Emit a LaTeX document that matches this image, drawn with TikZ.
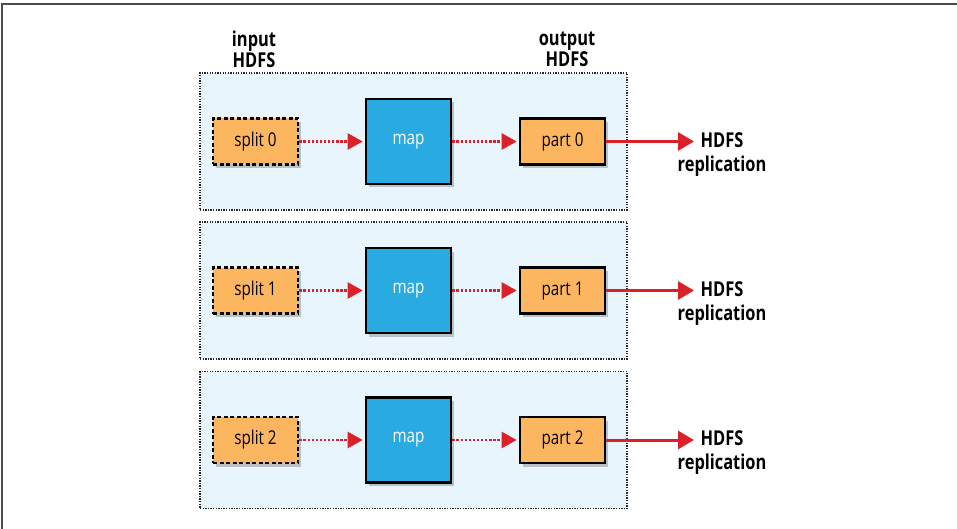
\documentclass[tikz,border=0pt]{standalone}
\usepackage{fontspec}
\setmainfont[FakeStretch=0.8]{Open Sans}
\usetikzlibrary{arrows.meta,shadows}
\definecolor{panelfill}{HTML}{E9F5FC}
\definecolor{boxorange}{HTML}{FDB660}
\definecolor{mapblue}{HTML}{29AAE1}
\definecolor{arrred}{HTML}{DA2129}
\tikzset{
  panel/.style={draw=black!85, fill=panelfill, dash pattern=on 1.3pt off 1.3pt, line width=1.2pt,
    minimum width=427pt, minimum height=137pt, inner sep=0pt},
  shad/.style={drop shadow={shadow xshift=2.5pt, shadow yshift=-3.5pt, opacity=0.3, fill=black!70}},
  splitbox/.style={draw=black, fill=boxorange, line width=2.6pt, dash pattern=on 4pt off 2.5pt,
    minimum width=85pt, minimum height=46pt, inner sep=0pt, font=\fontsize{19}{21}\selectfont, shad},
  partbox/.style={draw=black, fill=boxorange, line width=2.6pt,
    minimum width=85pt, minimum height=46pt, inner sep=0pt, font=\fontsize{19}{21}\selectfont, shad},
  mapbox/.style={draw=black, fill=mapblue, line width=2.6pt, text=white,
    minimum width=85pt, minimum height=85pt, inner sep=0pt, font=\fontsize{19}{21}\selectfont, shad},
  dotarrow/.style={draw=arrred, line width=2.3pt, dash pattern=on 2.3pt off 1.8pt,
    -{Triangle[length=15pt,width=16pt]}, shorten >=2pt},
  solidarrow/.style={draw=arrred, line width=3pt, -{Triangle[length=16pt,width=18pt]}},
  lbl/.style={align=center, font=\fontsize{20.5}{21}\selectfont\bfseries, inner sep=0pt},
}
\begin{document}
\begin{tikzpicture}[x=1pt,y=-1pt]
\useasboundingbox (0,0) rectangle (957,529);
\draw[black!70, line width=1.2pt] (2,529) -- (2,4) -- (957,4);
\node[lbl] (inlbl) at (254,49) {input\\HDFS};
\node[lbl] (outlbl) at (567,49) {output\\HDFS};
\foreach \i/\y in {0/141.5, 1/290.5, 2/440} {
  \node[panel] (panel\i) at (413.5,\y) {};
  \node[splitbox] (split\i) at (255.5,\y) {split \i};
  \node[mapbox] (map\i) at (408.5,\y) {map};
  \node[partbox] (part\i) at (562.5,\y) {part \i};
  \coordinate (tip\i) at (694,\y);
  \node[lbl, align=center, font=\fontsize{20.5}{24}\selectfont\bfseries] (repl\i) at (722,\y+13) {HDFS\\replication};
  \draw[dotarrow] (split\i) -- (map\i);
  \draw[dotarrow] (map\i) -- (part\i);
  \draw[solidarrow] (part\i) -- (tip\i);
}
\end{tikzpicture}
\end{document}
